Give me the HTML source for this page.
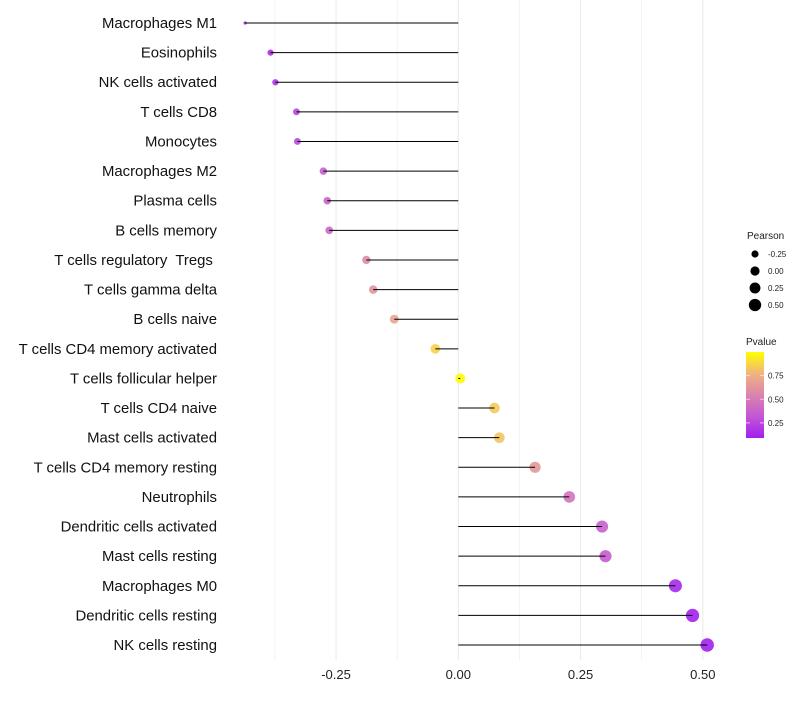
<!DOCTYPE html>
<html><head><meta charset="utf-8"><style>
body{margin:0;background:#fff;font-family:"Liberation Sans",sans-serif}
text{white-space:pre}
</style></head><body>
<svg id="chart" width="800" height="700" xmlns="http://www.w3.org/2000/svg" font-family="Liberation Sans, sans-serif">
<g id="grid"></g>
<g id="marks"></g>
<g id="ylabels"></g>
<g id="xlabels"></g>
<g id="legend"></g>
</svg>
<script>
const categories=["Macrophages M1","Eosinophils","NK cells activated","T cells CD8","Monocytes","Macrophages M2","Plasma cells","B cells memory","T cells regulatory  Tregs ","T cells gamma delta","B cells naive","T cells CD4 memory activated","T cells follicular helper","T cells CD4 naive","Mast cells activated","T cells CD4 memory resting","Neutrophils","Dendritic cells activated","Mast cells resting","Macrophages M0","Dendritic cells resting","NK cells resting"];
const pearson=[-0.436,-0.384,-0.374,-0.331,-0.329,-0.276,-0.268,-0.264,-0.188,-0.174,-0.131,-0.047,0.004,0.074,0.084,0.157,0.227,0.294,0.301,0.444,0.479,0.509];
const pvalue=[0.12,0.16,0.18,0.25,0.26,0.36,0.38,0.40,0.58,0.61,0.70,0.86,0.99,0.84,0.82,0.64,0.46,0.36,0.34,0.13,0.10,0.09];
const xTicks=[-0.25,0,0.25,0.5];
const xTickLabels=["-0.25","0.00","0.25","0.50"];
const sizeLegend=[-0.25,0,0.25,0.5];
const sizeLegendLabels=["-0.25","0.00","0.25","0.50"];
const colorLegend=[0.25,0.5,0.75];
const colorLegendLabels=["0.25","0.50","0.75"];

const NS="http://www.w3.org/2000/svg";
const x=v=>458.3+v*489;
const y=i=>23+i*29.62;
const r=v=>{const q=Math.sqrt(Math.max(2,25+v*40));return v<-0.42?1.6:q;};
const pMin=0.09,pMax=1.0;
const stops=[[0,[160,32,240]],[0.25,[196,86,214]],[0.5,[218,132,172]],[0.75,[240,180,126]],[1,[255,255,0]]];
function col(p){let t=Math.min(1,Math.max(0,(p-pMin)/(pMax-pMin)));for(let k=1;k<stops.length;k++){if(t<=stops[k][0]){const a=stops[k-1],b=stops[k];const u=(t-a[0])/(b[0]-a[0]);const c=a[1].map((v,j)=>Math.round(v+(b[1][j]-v)*u));return`rgb(${c})`;}}return"rgb(255,255,0)";}
function mk(tag,attrs,parent){const e=document.createElementNS(NS,tag);for(const k in attrs)e.setAttribute(k,attrs[k]);parent.appendChild(e);return e;}
const grid=document.getElementById('grid'),marks=document.getElementById('marks'),yl=document.getElementById('ylabels'),xl=document.getElementById('xlabels'),lg=document.getElementById('legend');
for(let v=-0.375;v<=0.5;v+=0.125){const g=mk('line',{x1:x(v),x2:x(v),y1:0,y2:660,stroke:'#ebebeb','stroke-width':xTicks.includes(v)?1.1:0.6},grid);

}
xTicks.forEach((v,i)=>{const t=mk('text',{x:x(v),y:679,'text-anchor':'middle','font-size':13,fill:'#222'},xl);t.textContent=xTickLabels[i];

});
categories.forEach((c,i)=>{
const d=mk('circle',{cx:x(pearson[i]),cy:y(i),r:r(pearson[i]),fill:col(pvalue[i]),'fill-opacity':0.9},marks);


const l=mk('line',{x1:x(0),x2:x(pearson[i]),y1:y(i),y2:y(i),stroke:'#000','stroke-width':1},marks);


const t=mk('text',{x:217,y:y(i)+5,'text-anchor':'end','font-size':14.9,fill:'#111'},yl);t.textContent=c;


});
let t=mk('text',{x:747,y:239,'font-size':10,fill:'#222'},lg);t.textContent='Pearson';


sizeLegend.forEach((v,i)=>{const cy=254+i*17;const c=mk('circle',{cx:755,cy:cy,r:r(v)*0.92,fill:'#000'},lg);


const tt=mk('text',{x:768,y:cy+3,'font-size':8,fill:'#222'},lg);tt.textContent=sizeLegendLabels[i];

});
t=mk('text',{x:746,y:345,'font-size':10,fill:'#222'},lg);t.textContent='Pvalue';


const defs=mk('defs',{},lg);const gr=mk('linearGradient',{id:'pg',x1:0,y1:1,x2:0,y2:0},defs);
stops.forEach(s=>mk('stop',{offset:s[0],'stop-color':`rgb(${s[1]})`},gr));
const barTop=352,barBot=438;const py=p=>barBot-(p-pMin)/(pMax-pMin)*(barBot-barTop);
const bar=mk('rect',{x:746,y:barTop,width:18,height:barBot-barTop,fill:'url(#pg)'},lg);


colorLegend.forEach((v,i)=>{mk('line',{x1:746,x2:750,y1:py(v),y2:py(v),stroke:'#fff','stroke-opacity':0.6},lg);mk('line',{x1:760,x2:764,y1:py(v),y2:py(v),stroke:'#fff','stroke-opacity':0.6},lg);
const tt=mk('text',{x:768,y:py(v)+3,'font-size':8,fill:'#222'},lg);tt.textContent=colorLegendLabels[i];

});
</script>
</body></html>
